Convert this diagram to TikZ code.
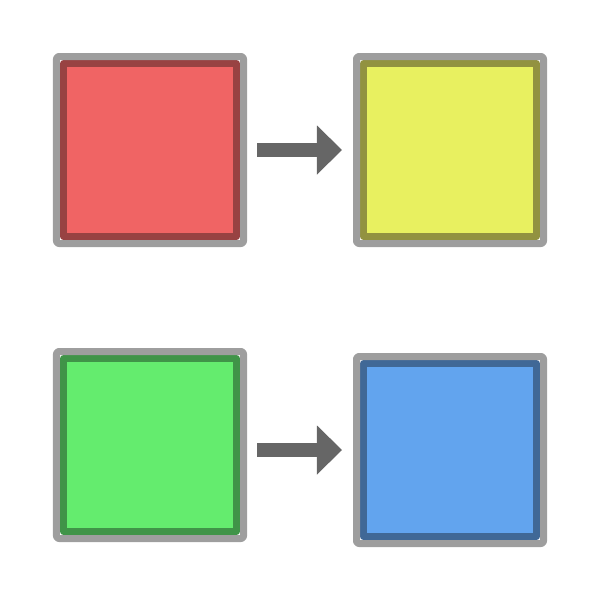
\documentclass[tikz,border=0pt]{standalone}
\usetikzlibrary{arrows.meta}
\definecolor{tileframe}{HTML}{9E9E9E}
\definecolor{flowgrey}{HTML}{666666}
\definecolor{redfill}{HTML}{F06464}
\definecolor{rededge}{HTML}{984242}
\definecolor{yellowfill}{HTML}{E8F060}
\definecolor{yellowedge}{HTML}{929240}
\definecolor{greenfill}{HTML}{64EC6E}
\definecolor{greenedge}{HTML}{409448}
\definecolor{bluefill}{HTML}{62A4EE}
\definecolor{blueedge}{HTML}{406896}

\begin{document}
\begin{tikzpicture}[
  x=0.25mm,
  y=-0.25mm,
  line join=round,
  tile/.style={rectangle,minimum size=43.25mm,inner sep=0pt,outer sep=1.75mm,line width=1.75mm},
  frame/.style={draw=tileframe,line width=1.75mm,rounded corners=0.6mm},
  flow/.style={draw=flowgrey,line width=3.5mm,shorten <=3.375mm,shorten >=3.625mm,
    -{Triangle[length=6.25mm,width=12.25mm,line width=0pt]}}
]
  \useasboundingbox (0,0) rectangle (600,600);

  % Top pair: red turns into yellow.
  \node[tile,fill=redfill,draw=rededge] (red) at (150,150) {};
  \node[tile,fill=yellowfill,draw=yellowedge] (yellow) at (450,150) {};

  % Bottom pair: green turns into blue.
  \node[tile,fill=greenfill,draw=greenedge] (green) at (150,445) {};
  \node[tile,fill=bluefill,draw=blueedge] (blue) at (450,450) {};

  % Grey frame round each tile, just outside its coloured edge.
  \foreach \t in {red,yellow,green,blue} {
    \draw[frame] (\t.south west) rectangle (\t.north east);
  }

  \draw[flow] (red.east) -- (yellow.west);
  \draw[flow] (green.east |- blue.west) -- (blue.west);
\end{tikzpicture}
\end{document}
